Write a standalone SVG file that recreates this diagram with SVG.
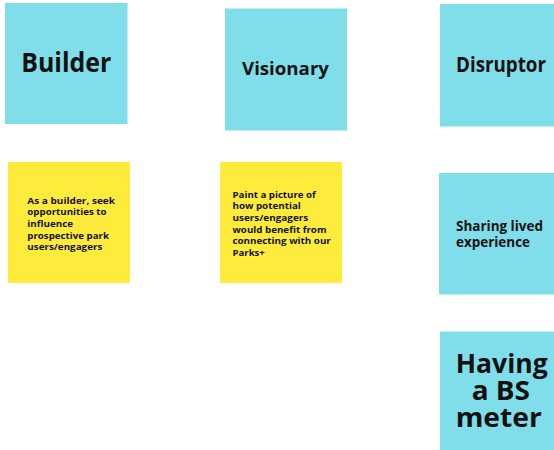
<svg xmlns="http://www.w3.org/2000/svg" width="554" height="450" viewBox="0 0 554 450">
<style>
.cy{fill:#80DEEA}
.ye{fill:#FFEB3B}
text{font-family:"Open Sans","Liberation Sans",sans-serif;font-weight:700;fill:#111111}
.c{text-anchor:middle}
.s{font-size:9.5px}
.h{font-size:27px}
.m{font-size:13.5px}
</style>
<rect width="554" height="450" fill="#ffffff"/>
<g id="connectors"></g>
<g id="builder">
<rect class="cy" x="5" y="3" width="122.5" height="121"/>
<text class="c" x="66.3" y="72" font-size="26" textLength="90" lengthAdjust="spacingAndGlyphs">Builder</text>
</g>
<g id="visionary">
<rect class="cy" x="225" y="8.5" width="122" height="122"/>
<text class="c" x="285.5" y="75" font-size="18" textLength="87" lengthAdjust="spacingAndGlyphs">Visionary</text>
</g>
<g id="disruptor">
<rect class="cy" x="440" y="4" width="114" height="122.5"/>
<text class="c" x="501" y="72.3" font-size="20.5" textLength="90" lengthAdjust="spacingAndGlyphs">Disruptor</text>
</g>
<g id="builder-note">
<rect class="ye" x="8" y="162" width="122" height="121"/>
<text class="s"><tspan x="27.3" y="203.7" textLength="87.7" lengthAdjust="spacingAndGlyphs">As a builder, seek</tspan><tspan x="27.3" y="215.3" textLength="79.3" lengthAdjust="spacingAndGlyphs">opportunities to</tspan><tspan x="27.3" y="226.9" textLength="45.7" lengthAdjust="spacingAndGlyphs">influence</tspan><tspan x="27.3" y="238.5" textLength="81.7" lengthAdjust="spacingAndGlyphs">prospective park</tspan><tspan x="27.3" y="250.1" textLength="75" lengthAdjust="spacingAndGlyphs">users/engagers</tspan></text>
</g>
<g id="visionary-note">
<rect class="ye" x="220" y="162" width="122" height="121"/>
<text class="s"><tspan x="232.5" y="197.6" textLength="83.3" lengthAdjust="spacingAndGlyphs">Paint a picture of</tspan><tspan x="232.5" y="209.3" textLength="68.3" lengthAdjust="spacingAndGlyphs">how potential</tspan><tspan x="232.5" y="221" textLength="75.7" lengthAdjust="spacingAndGlyphs">users/engagers</tspan><tspan x="232.5" y="232.7" textLength="94" lengthAdjust="spacingAndGlyphs">would benefit from</tspan><tspan x="232.5" y="244.4" textLength="98.3" lengthAdjust="spacingAndGlyphs">connecting with our</tspan><tspan x="232.5" y="256.1" textLength="32.3" lengthAdjust="spacingAndGlyphs">Parks+</tspan></text>
</g>
<g id="sharing">
<rect class="cy" x="439" y="173" width="115" height="121.5"/>
<text class="m"><tspan x="456" y="230.5" textLength="87" lengthAdjust="spacingAndGlyphs">Sharing lived</tspan><tspan x="456" y="246.5" textLength="74" lengthAdjust="spacingAndGlyphs">experience</tspan></text>
</g>
<g id="bs-meter">
<rect class="cy" x="440" y="331.5" width="114" height="118.5"/>
<text class="c h"><tspan x="501.7" y="372.8" textLength="92" lengthAdjust="spacingAndGlyphs">Having</tspan><tspan x="500.8" y="400" textLength="58.3" lengthAdjust="spacingAndGlyphs">a BS</tspan><tspan x="498.7" y="426.8" textLength="86" lengthAdjust="spacingAndGlyphs">meter</tspan></text>
</g>
</svg>
